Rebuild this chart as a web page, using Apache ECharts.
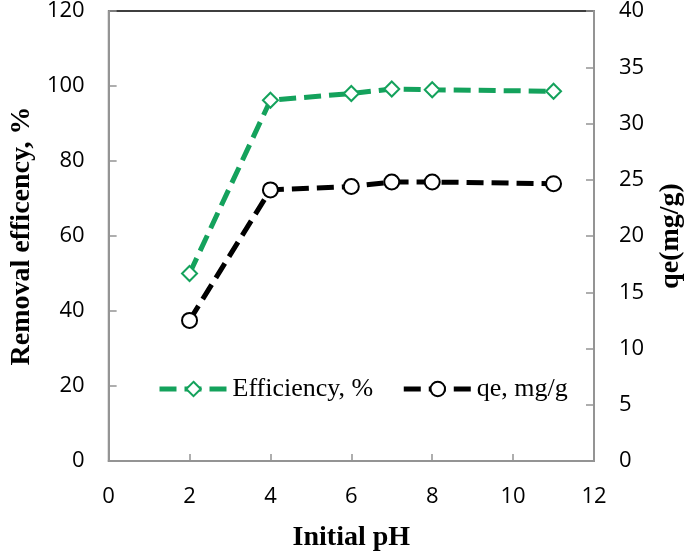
<!DOCTYPE html>
<html>
<head>
<meta charset="utf-8">
<script src="https://cdn.jsdelivr.net/npm/echarts@6/dist/echarts.min.js"></script>
<style>html,body{margin:0;padding:0;background:#fff;}#c{width:693px;height:557px;}</style>
</head>
<body>
<div id="c"></div>
<script>
const phValues = [2, 4, 6, 7, 8, 11];
const efficiency = [50, 96.2, 98, 99.2, 99, 98.6];
const qe = [12.5, 24.1, 24.4, 24.8, 24.8, 24.65];
const xTicks = [0, 2, 4, 6, 8, 10, 12];
const leftTicks = [0, 20, 40, 60, 80, 100, 120];
const rightTicks = [0, 5, 10, 15, 20, 25, 30, 35, 40];

const GREEN = '#14a25c';
const AXIS_GRAY = '#949494';
const tickFont = { fontFamily: 'Open Sans', fontSize: 22, color: '#000' };
const titleFont = { fontFamily: 'Liberation Serif', fontWeight: 'bold', fontSize: 28, color: '#000' };
const DASH = [17, 8];

const chart = echarts.init(document.getElementById('c'), null, { renderer: 'canvas' });
chart.setOption({
  animation: false,
  backgroundColor: '#fff',
  grid: { left: 97, right: 90, top: 8, bottom: 91, containLabel: false,
          show: true, borderColor: '#000', borderWidth: 1.5, backgroundColor: 'transparent' },
  legend: {
    left: 152, top: 371,
    itemWidth: 68, itemHeight: 18, itemGap: 28,
    textStyle: { fontFamily: 'Liberation Serif', fontSize: 26, color: '#000' },
    lineStyle: { width: 5 },
    itemStyle: { borderWidth: 2 },
    data: ['Efficiency, %', 'qe, mg/g']
  },
  xAxis: {
    type: 'value', min: xTicks[0], max: xTicks[xTicks.length - 1], interval: 2,
    name: 'Initial pH', nameLocation: 'middle', nameGap: 63, nameTextStyle: titleFont,
    axisLine: { show: true, lineStyle: { color: AXIS_GRAY, width: 2 } },
    axisTick: { show: true, inside: true, length: 7, lineStyle: { color: AXIS_GRAY, width: 1.5 } },
    axisLabel: Object.assign({ margin: 25 }, tickFont),
    splitLine: { show: false }
  },
  yAxis: [{
    type: 'value', min: leftTicks[0], max: leftTicks[leftTicks.length - 1], interval: 20,
    name: 'Removal efficency, %', nameLocation: 'middle', nameGap: 70, nameRotate: 90,
    nameTextStyle: titleFont,
    axisLine: { show: true, lineStyle: { color: AXIS_GRAY, width: 2 } },
    axisTick: { show: true, inside: true, length: 8, lineStyle: { color: AXIS_GRAY, width: 1.5 } },
    axisLabel: Object.assign({ margin: 24 }, tickFont),
    splitLine: { show: false }, minorTick: { show: false }
  }, {
    type: 'value', position: 'right', min: rightTicks[0], max: rightTicks[rightTicks.length - 1], interval: 5,
    name: 'qe(mg/g)', nameLocation: 'middle', nameGap: 63, nameRotate: 90,
    nameTextStyle: titleFont,
    axisLine: { show: true, lineStyle: { color: AXIS_GRAY, width: 2 } },
    axisTick: { show: true, inside: true, length: 8, lineStyle: { color: AXIS_GRAY, width: 1.5 } },
    axisLabel: Object.assign({ margin: 25 }, tickFont),
    splitLine: { show: false }, minorTick: { show: false }
  }],
  series: [{
    name: 'Efficiency, %', type: 'line', yAxisIndex: 0,
    data: phValues.map((x, i) => [x, efficiency[i]]),
    symbol: 'diamond', symbolSize: 15,
    lineStyle: { color: GREEN, width: 5, type: DASH },
    itemStyle: { color: '#fff', borderColor: GREEN, borderWidth: 2 },
    emphasis: { disabled: true }
  }, {
    name: 'qe, mg/g', type: 'line', yAxisIndex: 1,
    data: phValues.map((x, i) => [x, qe[i]]),
    symbol: 'circle', symbolSize: 15,
    lineStyle: { color: '#000', width: 5, type: DASH },
    itemStyle: { color: '#fff', borderColor: '#000', borderWidth: 2 },
    emphasis: { disabled: true }
  }]
});
</script>
</body>
</html>
